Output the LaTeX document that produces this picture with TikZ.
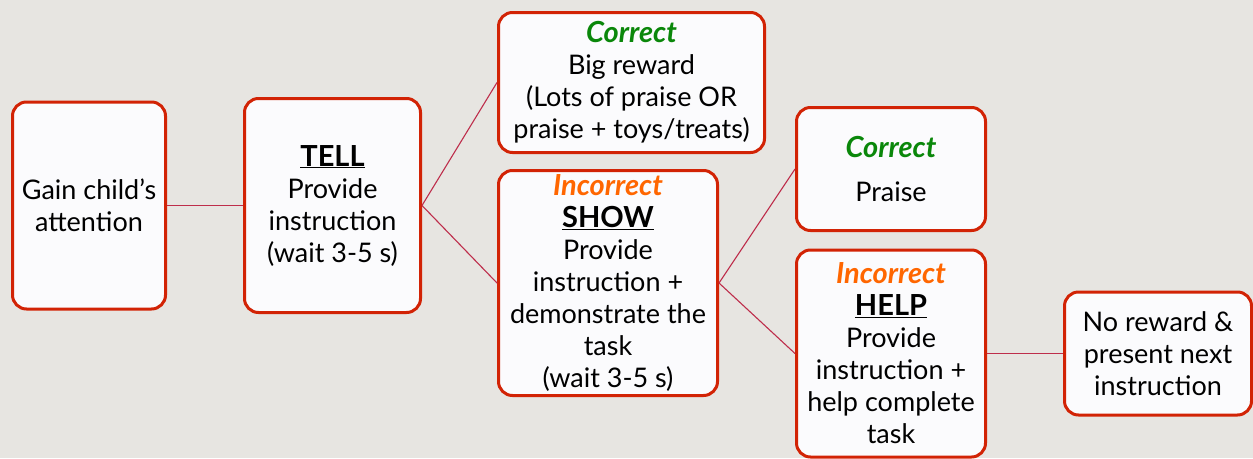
\documentclass[tikz,border=0pt]{standalone}
\usepackage{fontspec}
\setmainfont{Lato}
\definecolor{bg}{RGB}{231,229,225}
\definecolor{boxred}{RGB}{210,35,5}
\definecolor{linered}{RGB}{190,45,75}
\definecolor{okgreen}{RGB}{10,135,10}
\definecolor{badorange}{RGB}{255,102,0}
\definecolor{boxfill}{RGB}{251,251,253}
\tikzset{
  box/.style={draw=boxred, line width=3pt, fill=boxfill, rounded corners=14pt,
    align=center, inner sep=0pt, font=\fontsize{27}{32}\selectfont, text=black},
  conn/.style={draw=linered, line width=1.1pt},
}
\newcommand{\okword}{{\fontsize{29}{32}\selectfont\color{okgreen}\bfseries\itshape Correct}}
\newcommand{\badword}{{\fontsize{29}{32}\selectfont\color{badorange}\bfseries\itshape Incorrect}}
\newcommand{\hdword}[1]{{\fontsize{29}{32}\selectfont\textbf{\underline{#1}}}}
\begin{document}
\begin{tikzpicture}[x=1pt,y=-1pt]
\useasboundingbox (0,0) rectangle (1253,458);
\fill[bg] (0,0) rectangle (1253,458);

\node[box, minimum width=153pt, minimum height=207pt] (gain) at (89,205.5)
  {Gain child’s\\attention};
\node[box, minimum width=176pt, minimum height=214pt] (tell) at (332.5,205.5)
  {\hdword{TELL}\\Provide\\instruction\\(wait 3-5 s)};
\node[box, minimum width=266pt, minimum height=140pt] (big) at (631.5,82.5)
  {\okword\\Big reward\\(Lots of praise OR\\praise + toys/treats)};
\node[box, minimum width=219pt, minimum height=225pt] (show) at (608,283)
  {\badword\\\hdword{SHOW}\\Provide\\instruction +\\demonstrate the\\task\\(wait 3-5 s)};
\node[box, minimum width=189pt, minimum height=123pt] (praise) at (891,169)
  {\okword\\[12pt]Praise};
\node[box, minimum width=189pt, minimum height=207pt] (help) at (891,353.5)
  {\badword\\\hdword{HELP}\\Provide\\instruction +\\help complete\\task};
\node[box, minimum width=187pt, minimum height=123pt] (noreward) at (1158,353.5)
  {No reward \&\\present next\\instruction};

\draw[conn] (gain.east) -- (tell.west);
\draw[conn] (tell.east) -- (big.west);
\draw[conn] (tell.east) -- (show.west);
\draw[conn] (show.east) -- (praise.west);
\draw[conn] (show.east) -- (help.west);
\draw[conn] (help.east) -- (noreward.west);
\end{tikzpicture}
\end{document}
